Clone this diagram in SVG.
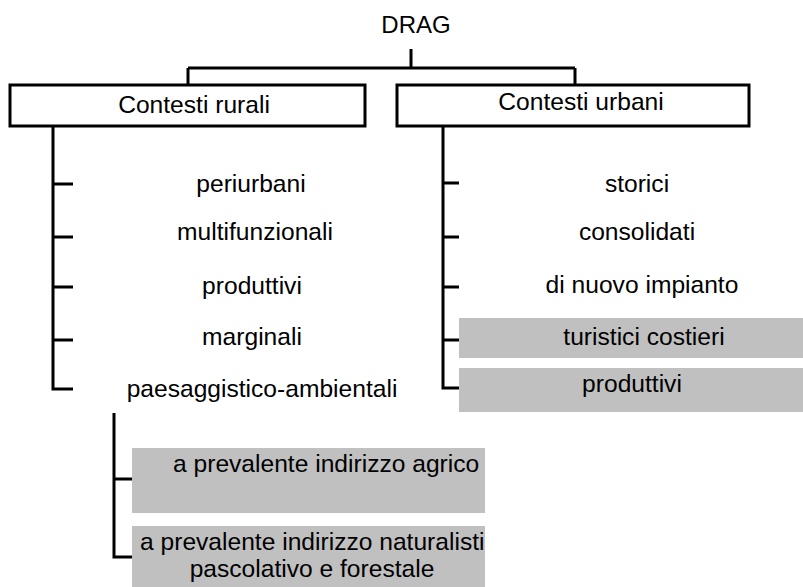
<svg xmlns="http://www.w3.org/2000/svg" width="803" height="587" viewBox="0 0 803 587">
<style>
text{font-family:"Liberation Sans",Arial,sans-serif;font-size:24.6px;fill:#000}
.c{text-anchor:middle}
.box{fill:#fff;stroke:#000;stroke-width:3}
.grey{fill:#c0c0c0;stroke:none}
.ln{fill:none;stroke:#000;stroke-width:3}
</style>
<g id="connectors">
<path class="ln" d="M411 49V68M188 68H575M188 68V85M575 68V85"/>
<path class="ln" d="M53 126V389H73M53 184H73M53 237H73M53 287H73M53 340H73"/>
<path class="ln" d="M443 126V388H459M443 183H459M443 237H459M443 287H459M443 340H459"/>
<path class="ln" d="M114 413V557H133M114 479H133"/>
</g>
<g id="drag"><text class="c" x="416" y="33" style="font-size:24px">DRAG</text></g>
<g id="rurali"><rect class="box" x="10" y="85" width="355" height="41"/><text class="c" x="194" y="113">Contesti rurali</text></g>
<g id="urbani"><rect class="box" x="397" y="85" width="352" height="41"/><text class="c" x="581" y="110">Contesti urbani</text></g>
<g id="periurbani"><text class="c" x="251" y="192">periurbani</text></g>
<g id="multifunzionali"><text class="c" x="255" y="240">multifunzionali</text></g>
<g id="produttivi-r"><text class="c" x="252" y="294">produttivi</text></g>
<g id="marginali"><text class="c" x="252" y="345">marginali</text></g>
<g id="paesaggistico"><text class="c" x="262" y="397">paesaggistico-ambientali</text></g>
<g id="storici"><text class="c" x="637" y="192">storici</text></g>
<g id="consolidati"><text class="c" x="637" y="240">consolidati</text></g>
<g id="nuovo"><text class="c" x="642" y="293">di nuovo impianto</text></g>
<g id="turistici"><rect class="grey" x="459" y="318" width="344" height="40"/><text class="c" x="644" y="345">turistici costieri</text></g>
<g id="produttivi-u"><rect class="grey" x="459" y="368" width="344" height="44"/><text class="c" x="632" y="392">produttivi</text></g>
<g id="agricolo"><rect class="grey" x="132" y="448" width="353" height="65"/><text x="173" y="472">a prevalente indirizzo agrico</text></g>
<g id="naturalistico"><rect class="grey" x="132" y="526" width="353" height="61"/><text x="140" y="550">a prevalente indirizzo naturalisti</text><text class="c" x="312" y="577">pascolativo e forestale</text></g>
</svg>
